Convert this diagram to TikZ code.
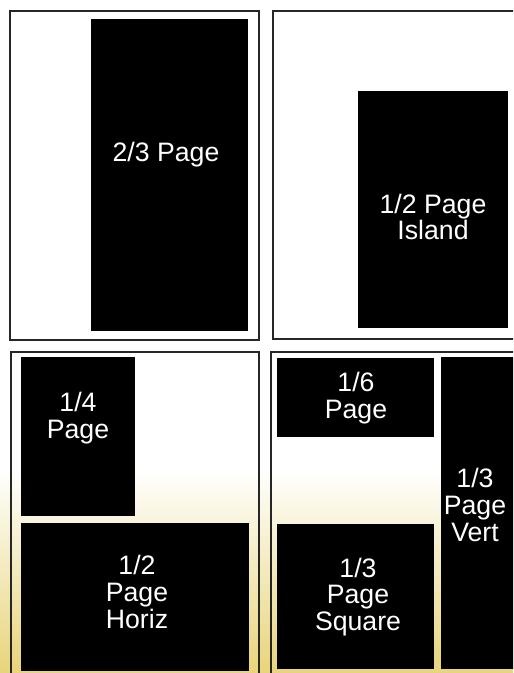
\documentclass[tikz,border=0pt]{standalone}
\usepackage{fontspec}
\setmainfont{Liberation Sans}
\usetikzlibrary{fit}
\definecolor{Frame}{HTML}{262626}
\definecolor{Cream}{HTML}{FCF2DF}
\definecolor{Gold}{HTML}{E8D47A}

\begin{document}
\begin{tikzpicture}[x=0.75pt,y=-0.75pt,
        panel/.style={draw=Frame,line width=1.4pt},
        ad/.style={fill=black,inner sep=0pt},
        adtext/.style={text=white,align=center,inner sep=0pt,
          font=\fontsize{20}{20}\selectfont}]
        \useasboundingbox (0,0) rectangle (513,673);
        \clip (0,0) rectangle (513,673);
        % page background
        \fill[white] (0,0) rectangle (513,470);
        \shade[top color=white,middle color=Cream,bottom color=Gold]
          (0,468) rectangle (513,674);
        % the four sample pages
        \draw[panel] (10,11) rectangle (259,340);
        \draw[panel] (273,11) rectangle (520,339);
        \draw[panel] (11,352) rectangle (259,680);
        \draw[panel] (271,352) rectangle (520,680);
        % ad sizes
        \node[ad,fit={(91,19) (248,331)}] (twothirds) {};
        \node[adtext] at (166,155) {2/3 Page};
        \node[ad,fit={(358,91) (508,328)}] (island) {};
        \node[adtext] at (433,217) {1/2 Page\\Island};
        \node[ad,fit={(21,357) (135,516)}] (quarter) {};
        \node[adtext] at (78,418) {1/4\\Page};
        \node[ad,fit={(21,523) (249,671)}] (horiz) {};
        \node[adtext] at (137,592) {1/2\\Page\\Horiz};
        \node[ad,fit={(277,358) (434,437)}] (sixth) {};
        \node[adtext] at (356,398) {1/6\\Page};
        \node[ad,fit={(441,357) (520,669)}] (vert) {};
        \node[adtext] at (475,505) {1/3\\Page\\Vert};
        \node[ad,fit={(277,524) (434,669)}] (square) {};
        \node[adtext] at (358,597) {1/3\\Page\\Square};
      \end{tikzpicture}
\end{document}
